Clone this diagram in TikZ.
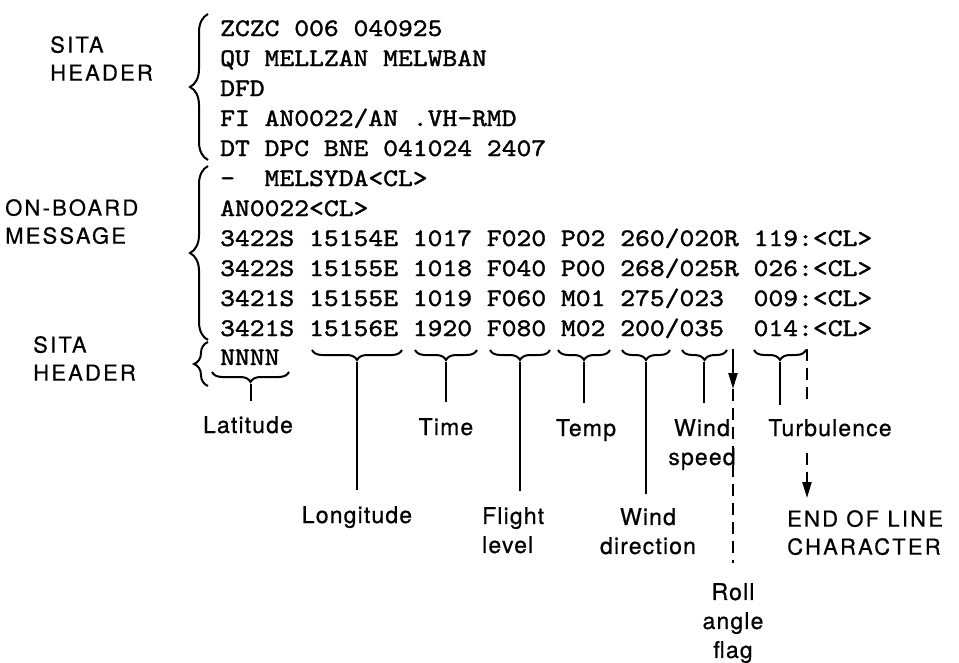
\documentclass[tikz,border=0pt]{standalone}
\usepackage{fontspec}
\usetikzlibrary{decorations.pathreplacing,arrows.meta}
\newfontfamily\twfont[FakeStretch=1.12,FakeBold=1.5]{lmmono10-regular.otf}
\newfontfamily\labfont[LetterSpace=5,FakeBold=0.6]{TeX Gyre Heros}
\newfontfamily\capfont[LetterSpace=10,FakeBold=0.6]{TeX Gyre Heros}
\begin{document}
\begin{tikzpicture}[x=1pt,y=-1pt,
  tt/.style={anchor=base west,inner sep=0pt,font=\twfont\fontsize{25.2}{30}\selectfont},
  lab/.style={inner sep=0pt,align=center,font=\labfont\fontsize{23}{29}\selectfont},
  caplab/.style={inner sep=0pt,align=left,font=\capfont\fontsize{22}{28}\selectfont},
  vbrace/.style={decorate,decoration={brace,amplitude=18pt},line width=2pt},
  hbrace/.style={decorate,decoration={brace,amplitude=10pt},line width=2pt},
  conn/.style={line width=2.2pt},
  dashln/.style={line width=2.2pt,dash pattern=on 12pt off 7pt},
  tip/.style={-{Triangle[width=9pt,length=16pt]}}
]
\useasboundingbox (0,0) rectangle (959,662);
% left labels
\node[caplab,anchor=north west] (sita1) at (50,36) {SITA\\HEADER};
\node[caplab,anchor=north west] (onboard) at (5,199) {ON-BOARD\\MESSAGE};
\node[caplab,anchor=north west] (sita2) at (33,336) {SITA\\HEADER};
% message lines
\node[tt] (l0) at (220,36) {ZCZC~006~040925};
\node[tt] (l1) at (220,66) {QU~MELLZAN~MELWBAN};
\node[tt] (l2) at (220,96) {DFD};
\node[tt] (l3) at (220,126) {FI~AN0022/AN~.VH-RMD};
\node[tt] (l4) at (220,156) {DT~DPC~BNE~041024~2407};
\node[tt] (l5) at (220,186) {-~~MELSYDA<CL>};
\node[tt] (l6) at (220,216) {AN0022<CL>};
\node[tt] (l7) at (220,246) {3422S~15154E~1017~F020~P02~260/020R~119:<CL>};
\node[tt] (l8) at (220,276) {3422S~15155E~1018~F040~P00~268/025R~026:<CL>};
\node[tt] (l9) at (220,306) {3421S~15155E~1019~F060~M01~275/023~~009:<CL>};
\node[tt] (l10) at (220,336) {3421S~15156E~1920~F080~M02~200/035~~014:<CL>};
\node[tt] (l11) at (220,365) {NNNN};
% vertical braces
\draw[vbrace] (208,160) -- (208,14);
\draw[vbrace] (208,340) -- (208,166);
\draw[decorate,decoration={brace,amplitude=14pt},line width=2pt] (208,386) -- (208,342);
% under braces
\draw[hbrace] (289,372) -- (212,372);
\draw[hbrace] (402,350) -- (312,350);
\draw[hbrace] (477,350) -- (415,350);
\draw[hbrace] (550,350) -- (490,350);
\draw[hbrace] (610,350) -- (558,350);
\draw[hbrace] (670,350) -- (622,350);
\draw[hbrace] (727,350) -- (682,350);
\draw[hbrace] (806,350) -- (754,350);
% brace tips
\coordinate (tLat) at (251,384);
\coordinate (tLon) at (357,362);
\coordinate (tTim) at (446,362);
\coordinate (tFl) at (520,362);
\coordinate (tTmp) at (584,362);
\coordinate (tWd) at (646,362);
\coordinate (tWs) at (704,362);
\coordinate (tTb) at (780,362);
\coordinate (tRoll) at (733,349);
\coordinate (aRoll) at (733,389);
\coordinate (tEol) at (807,349);
% bottom labels
\node[lab,anchor=base] (lat) at (248,433) {Latitude};
\node[lab,anchor=base] (time) at (446,435) {Time};
\node[lab,anchor=base] (temp) at (586,436) {Temp};
\node[lab,anchor=north] (ws) at (702,419) {Wind\\speed};
\node[lab,anchor=base] (turb) at (830,436) {Turbulence};
\node[lab,anchor=base] (lon) at (357,523) {Longitude};
\node[lab,anchor=north west,align=left] (fl) at (482,507) {Flight\\level};
\node[lab,anchor=north] (wd) at (648,508) {Wind\\direction};
\node[caplab,anchor=north west] (eol) at (787,510) {END OF LINE\\CHARACTER};
\node[lab,anchor=north] (roll) at (733,583) {Roll\\angle\\flag};
% connectors
\draw[conn] (tLat) -- ([yshift=15pt]tLat |- lat.north);
\draw[conn] (tLon) -- ([yshift=16pt]tLon |- lon.north);
\draw[conn] (tTim) -- ([yshift=16pt]tTim |- time.north);
\draw[conn] (tFl) -- ([yshift=16pt]tFl |- fl.north);
\draw[conn] (tTmp) -- ([yshift=16pt]tTmp |- temp.north);
\draw[conn] (tWd) -- ([yshift=14pt]tWd |- wd.north);
\draw[conn] (tWs) -- ([yshift=16pt]tWs |- ws.north);
\draw[conn] (tTb) -- ([yshift=14pt]tTb |- turb.north);
\draw[conn,tip] (tRoll) -- (aRoll);
\draw[dashln] (aRoll) -- ([yshift=20pt]aRoll |- roll.north);
\draw[dashln] (tEol) -- ([yshift=18pt]tEol |- turb.north);
\draw[dashln,tip] ([yshift=-16pt]tEol |- turb.south) -- ([yshift=12pt]tEol |- eol.north);
\end{tikzpicture}
\end{document}
